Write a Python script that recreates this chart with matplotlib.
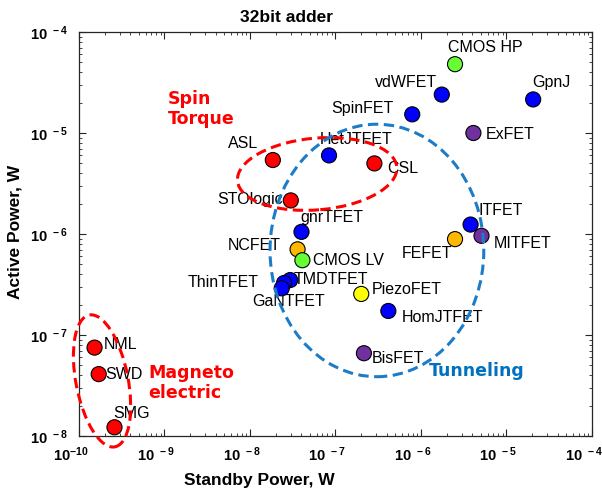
import matplotlib
matplotlib.use('Agg')
import matplotlib.pyplot as plt
from matplotlib.patches import Ellipse
from matplotlib.transforms import IdentityTransform, ScaledTranslation
from matplotlib.ticker import FixedLocator, LogLocator, NullFormatter

plt.rcParams['mathtext.fontset'] = 'custom'
plt.rcParams['mathtext.rm'] = 'Liberation Sans'
plt.rcParams['mathtext.bf'] = 'Liberation Sans:bold'
plt.rcParams['mathtext.default'] = 'bf'

# ---------------- data ----------------
devices = ['CMOS HP', 'vdWFET', 'GpnJ', 'SpinFET', 'ExFET', 'HetJTFET', 'CSL', 'ASL',
           'STOlogic', 'gnrTFET', 'NCFET', 'CMOS LV', 'TMDTFET', 'ThinTFET', 'GaNTFET',
           'FEFET', 'ITFET', 'MITFET', 'PiezoFET', 'HomJTFET', 'BisFET', 'NML', 'SWD', 'SMG']
standby_power = [2.5e-6, 1.75e-6, 2.05e-5, 7.9e-7, 4.1e-6, 8.4e-8, 2.85e-7, 1.85e-8,
                 3.0e-8, 4.0e-8, 3.6e-8, 4.1e-8, 2.95e-8, 2.5e-8, 2.35e-8,
                 2.5e-6, 3.8e-6, 5.1e-6, 2.0e-7, 4.15e-7, 2.15e-7, 1.52e-10, 1.70e-10, 2.6e-10]
active_power = [4.8e-5, 2.4e-5, 2.15e-5, 1.53e-5, 1.0e-5, 6.0e-6, 5.0e-6, 5.4e-6,
                2.15e-6, 1.05e-6, 7.05e-7, 5.5e-7, 3.5e-7, 3.27e-7, 2.9e-7,
                8.9e-7, 1.24e-6, 9.6e-7, 2.55e-7, 1.73e-7, 6.6e-8, 7.5e-8, 4.1e-8, 1.22e-8]
family = ['CMOS', 'Tunnel', 'Tunnel', 'Tunnel', 'Other', 'Tunnel', 'Spin', 'Spin',
          'Spin', 'Tunnel', 'Ferro', 'CMOS', 'Tunnel', 'Tunnel', 'Tunnel',
          'Ferro', 'Tunnel', 'Other', 'Piezo', 'Tunnel', 'Other', 'Spin', 'Spin', 'Spin']

x_ticks = [1e-10, 1e-9, 1e-8, 1e-7, 1e-6, 1e-5, 1e-4]
x_tick_labels = [r'$10^{-10}$', r'$10^{\ -9}$', r'$10^{\ -8}$', r'$10^{\ -7}$',
                 r'$10^{\ -6}$', r'$10^{\ -5}$', r'$10^{\ -4}$']
y_ticks = [1e-8, 1e-7, 1e-6, 1e-5, 1e-4]
y_tick_labels = [r'$10^{\ -8}$', r'$10^{\ -7}$', r'$10^{\ -6}$', r'$10^{\ -5}$', r'$10^{\ -4}$']

title = '32bit adder'
x_label = 'Standby Power, W'
y_label = 'Active Power, W'

# group annotations: text, anchor (standby, active)
group_labels = ['Spin\nTorque', 'Magneto\nelectric', 'Tunneling']
group_anchor_x = [1.1e-9, 6.4e-10, 1.24e-6]
group_anchor_y = [1.73e-5, 3.37e-8, 4.43e-8]

# ellipses: center (standby, active), width (x-decades), height (y-decades), angle
ell_cx = [6.1e-8, 1.86e-10, 3.05e-7]
ell_cy = [3.93e-6, 3.51e-8, 6.87e-7]
ell_w_dec = [1.87, 0.61, 2.50]
ell_h_dec = [0.71, 1.33, 2.50]
ell_angle = [5, 11, 0]

# ---------------- style ----------------
family_color = {'CMOS': '#66FF33', 'Tunnel': '#0000FF', 'Spin': '#FF0000',
                'Ferro': '#FFB800', 'Piezo': '#FFFF00', 'Other': '#7030A0'}
group_color = ['#FF0000', '#FF0000', '#0070C0']
ell_color = ['#FF0000', '#FF0000', '#1C7CC8']

# label offsets (points) and alignment
label_dx = {'CMOS HP': 21.6, 'vdWFET': -3.6, 'GpnJ': 13, 'SpinFET': -13.7, 'ExFET': 8.6,
            'HetJTFET': 19.4, 'CSL': 9.4, 'ASL': -10.8, 'STOlogic': -5.8, 'gnrTFET': 21.6,
            'NCFET': -12.2, 'CMOS LV': 7.9, 'TMDTFET': 2.2, 'ThinTFET': -18, 'GaNTFET': 5,
            'FEFET': -1.9, 'ITFET': 5.8, 'MITFET': 8.6, 'PiezoFET': 7.9, 'HomJTFET': 9.4,
            'BisFET': 5.8, 'NML': 6.5, 'SWD': 5, 'SMG': 12.2}
label_dy = {'CMOS HP': 12.2, 'vdWFET': 8.6, 'GpnJ': 12.2, 'SpinFET': 4.3, 'ExFET': -1.4,
            'HetJTFET': 11.5, 'CSL': -3.6, 'ASL': 12.2, 'STOlogic': 0.7, 'gnrTFET': 10.1,
            'NCFET': 2.9, 'CMOS LV': 0, 'TMDTFET': 0.7, 'ThinTFET': 0.7, 'GaNTFET': -9.4,
            'FEFET': -10.1, 'ITFET': 10.1, 'MITFET': -5.8, 'PiezoFET': 2.9, 'HomJTFET': -5,
            'BisFET': -3.6, 'NML': 2.2, 'SWD': 0, 'SMG': 10.1}
label_ha = {'CMOS HP': 'center', 'vdWFET': 'right', 'GpnJ': 'center', 'SpinFET': 'right',
            'ExFET': 'left', 'HetJTFET': 'center', 'CSL': 'left', 'ASL': 'right',
            'STOlogic': 'right', 'gnrTFET': 'center', 'NCFET': 'right', 'CMOS LV': 'left',
            'TMDTFET': 'left', 'ThinTFET': 'right', 'GaNTFET': 'center', 'FEFET': 'right',
            'ITFET': 'left', 'MITFET': 'left', 'PiezoFET': 'left', 'HomJTFET': 'left',
            'BisFET': 'left', 'NML': 'left', 'SWD': 'left', 'SMG': 'center'}

W, H, DPI = 602, 494, 100
fig = plt.figure(figsize=(W / DPI, H / DPI), dpi=DPI)
ax = fig.add_axes([79 / W, 1 - 436 / H, (592 - 79) / W, (436 - 32) / H])

ax.set_xscale('log')
ax.set_yscale('log')
ax.set_xlim(x_ticks[0], x_ticks[-1])
ax.set_ylim(y_ticks[0], y_ticks[-1])

# markers
ax.scatter(standby_power, active_power, s=118,
           c=[family_color[f] for f in family],
           edgecolors='black', linewidths=0.8, zorder=3)

# device labels
for name, xv, yv in zip(devices, standby_power, active_power):
    ax.annotate(name, (xv, yv), xytext=(label_dx[name], label_dy[name]),
                textcoords='offset points', ha=label_ha[name], va='center',
                fontsize=11.5, family='Liberation Sans', color='black', zorder=1)

# group labels
for txt, gx, gy, col in zip(group_labels, group_anchor_x, group_anchor_y, group_color):
    ax.text(gx, gy, txt, ha='left', va='center', color=col, fontsize=12.5,
            family='DejaVu Sans', fontweight='bold', linespacing=1.15, zorder=1)

# ticks
ax.xaxis.set_major_locator(FixedLocator(x_ticks))
ax.yaxis.set_major_locator(FixedLocator(y_ticks))
ax.set_xticklabels(x_tick_labels)
ax.set_yticklabels(y_tick_labels)
ax.xaxis.set_minor_locator(LogLocator(base=10, subs=range(2, 10), numticks=20))
ax.yaxis.set_minor_locator(LogLocator(base=10, subs=range(2, 10), numticks=20))
ax.xaxis.set_minor_formatter(NullFormatter())
ax.yaxis.set_minor_formatter(NullFormatter())
ax.tick_params(which='both', direction='in', top=True, right=True, color='#262626')
ax.tick_params(which='major', length=5, width=0.8, labelsize=10.7, pad=8)
ax.tick_params(which='minor', length=2.5, width=0.6)
ax.tick_params(axis='x', which='major', pad=7)
for sp in ax.spines.values():
    sp.set_linewidth(0.9)
    sp.set_color('#262626')

# shift x tick labels slightly left, as in the reference
shift = ScaledTranslation(-6.0 / 72, 0, fig.dpi_scale_trans)
for lbl in ax.get_xticklabels():
    lbl.set_transform(lbl.get_transform() + shift)

ax.set_xlabel(x_label, fontsize=12.5, fontweight='bold', family='Liberation Sans')
ax.set_ylabel(y_label, fontsize=12.5, fontweight='bold', family='Liberation Sans')
ax.xaxis.set_label_coords(0.351, -0.111)
ax.xaxis.label.set_verticalalignment('center')
ax.yaxis.set_label_coords(-0.125, 0.506)
ax.yaxis.label.set_verticalalignment('center')

fig.text(287 / W, 1 - 17 / H, title, ha='center', va='center', fontsize=12.5,
         fontweight='bold', family='Liberation Sans')

# ellipses drawn in display space
fig.canvas.draw()
p0 = ax.transData.transform((1e-10, 1e-8))
p1 = ax.transData.transform((1e-9, 1e-7))
ppd_x = p1[0] - p0[0]
ppd_y = p1[1] - p0[1]
for cx, cy, wd, hd, ang, col in zip(ell_cx, ell_cy, ell_w_dec, ell_h_dec, ell_angle, ell_color):
    c = ax.transData.transform((cx, cy))
    e = Ellipse(c, wd * ppd_x, hd * ppd_y, angle=ang, transform=IdentityTransform(),
                fill=False, edgecolor=col, linewidth=2.2, linestyle=(0, (3.4, 1.8)),
                zorder=4, clip_on=False)
    ax.add_artist(e)

fig.savefig('out.png', dpi=DPI)
